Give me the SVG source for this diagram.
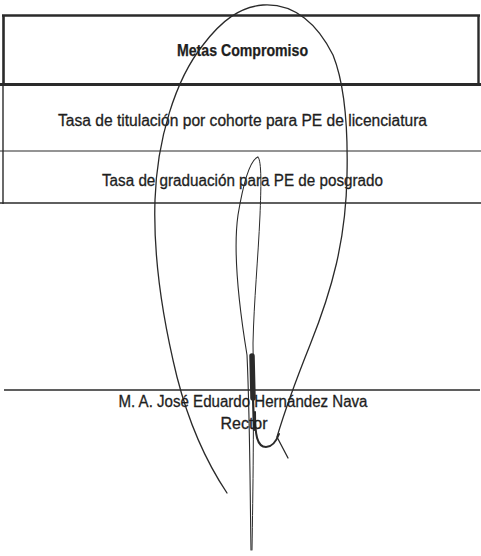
<svg xmlns="http://www.w3.org/2000/svg" width="481" height="556" viewBox="0 0 481 556">
<style>
.t{font-family:"Liberation Sans",Arial,sans-serif;font-size:16px;fill:#1e1e1e;text-anchor:middle;stroke:#1e1e1e;stroke-width:0.3}
.b{font-weight:bold;font-size:16px;stroke-width:0.25}
.rule{stroke:#2a2a2a;fill:none}
.sig{stroke:#2a2a2a;fill:none;stroke-linecap:round;stroke-linejoin:round}
</style>
<rect width="481" height="556" fill="#ffffff"/>
<g id="table">
  <line class="rule" x1="2" y1="15.5" x2="480" y2="15.5" stroke-width="2.6"/>
  <line class="rule" x1="3.5" y1="15" x2="3.5" y2="86" stroke-width="2.6"/>
  <line class="rule" x1="478.5" y1="15" x2="478.5" y2="86" stroke-width="2.4"/>
  <line class="rule" x1="0" y1="84.5" x2="481" y2="84.5" stroke-width="3"/>
  <line class="rule" x1="3" y1="86" x2="3" y2="204" stroke-width="1.4"/>
  <line class="rule" x1="0" y1="151" x2="481" y2="151" stroke-width="1.2"/>
  <line class="rule" x1="0" y1="203" x2="481" y2="203" stroke-width="1.6"/>
</g>
<g id="header">
  <text class="t b" x="242.5" y="56" textLength="131" lengthAdjust="spacingAndGlyphs">Metas Compromiso</text>
</g>
<g id="row1">
  <text class="t" x="242.5" y="126" textLength="369" lengthAdjust="spacingAndGlyphs">Tasa de titulación por cohorte para PE de licenciatura</text>
</g>
<g id="row2">
  <text class="t" x="242.5" y="186" textLength="281" lengthAdjust="spacingAndGlyphs">Tasa de graduación para PE de posgrado</text>
</g>
<g id="signature-line">
  <line class="rule" x1="4" y1="390" x2="480" y2="390" stroke-width="1.3"/>
</g>
<g id="signature">
  <path class="sig" stroke-width="1.3" d="M227 493 C205 460 188 420 177 377 C163 320 153 260 155 200 C157 140 175 80 203 45 C222 20 240 7 263 5 C295 3 318 25 333 55 C345 85 348 130 347 175 C346 240 332 290 310 345 C298 375 285 410 277 437 L288 458"/>
  <path class="sig" stroke-width="1.1" d="M258 157 C250 160 243 185 238 215 C233 250 238 300 247 355 C250 420 250 490 251 550"/>
  <path class="sig" stroke-width="1" d="M258 157 C262 160 261 190 260 215 C258 260 254 300 253 343 C254 420 253 490 252 550"/>
  <path class="sig" stroke-width="5.5" d="M252 356 L253 398"/>
  <path class="sig" stroke-width="2.2" d="M253 398 L254 430"/>
  <path class="sig" stroke-width="2" d="M255 412 C255 435 257 447 266 447 C272 447 276 442 279 434"/>
</g>
<g id="name">
  <text class="t" x="243" y="407" textLength="249" lengthAdjust="spacingAndGlyphs">M. A. José Eduardo Hernández Nava</text>
  <text class="t" x="244" y="429" textLength="47" lengthAdjust="spacingAndGlyphs">Rector</text>
</g>
</svg>
